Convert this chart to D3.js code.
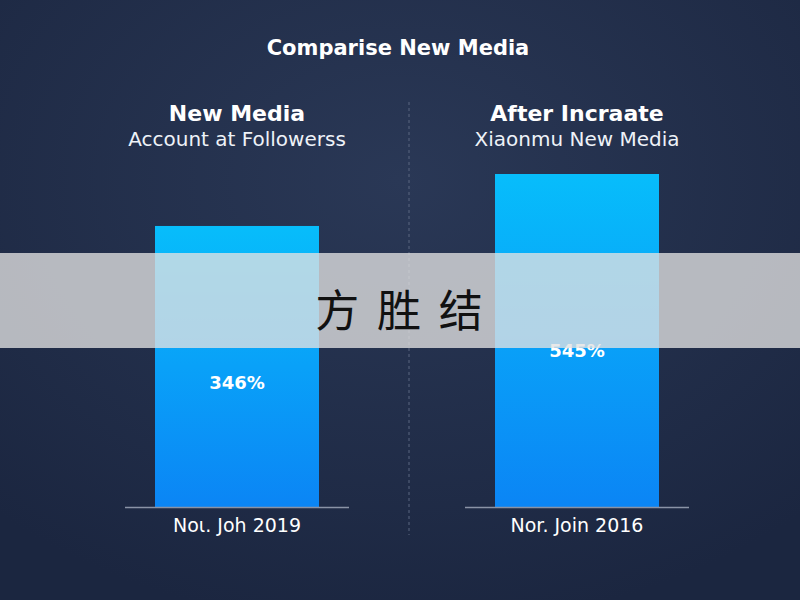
<!DOCTYPE html>
<html><head><meta charset="utf-8">
<script src="https://cdn.jsdelivr.net/npm/d3@7"></script>
<style>body{margin:0;background:#1f2b45}</style>
</head><body><svg id="c" width="800" height="600"></svg>
<script>
const panelTitles = ["New Media", "After Incraate"];
const panelSubtitles = ["Account at Followerss", "Xiaonmu New Media"];
const categories = ["Noι. Joh 2019", "Nor. Join 2016"];
const values = [346, 545];
const valueLabels = ["346%", "545%"];
const bandText = "方 胜 结";

const svg = d3.select("#c");
const defs = svg.append("defs");
const bg = defs.append("radialGradient").attr("id", "bg").attr("cx", "50%").attr("cy", "30%").attr("r", "75%");
bg.append("stop").attr("offset", "0%").attr("stop-color", "#2a3856");
bg.append("stop").attr("offset", "100%").attr("stop-color", "#1b2640");
const bar = defs.append("linearGradient").attr("id", "bar").attr("x1", 0).attr("y1", 0).attr("x2", 0).attr("y2", 1);
bar.append("stop").attr("offset", "0%").attr("stop-color", "#07bdfb");
bar.append("stop").attr("offset", "100%").attr("stop-color", "#0b85f5");

svg.append("rect").attr("width", 800).attr("height", 600).attr("fill", "url(#bg)");

const font = "'DejaVu Sans', Verdana, sans-serif";
svg.append("text").attr("x", 398).attr("y", 55).attr("text-anchor", "middle")
  .attr("fill", "#fff").attr("font-family", font).attr("font-weight", 700).attr("font-size", 21)
  .text("Comparise New Media");

// panel centers
const x = d3.scalePoint().domain(categories).range([237, 577]);
const y = d3.scaleLinear().domain([-730, 545]).range([507, 174]);
const bw = 164;

svg.append("line").attr("x1", 409).attr("x2", 409).attr("y1", 102).attr("y2", 535)
  .attr("stroke", "#5a6780").attr("stroke-dasharray", "3,3").attr("stroke-width", 1);

const g = svg.selectAll("g.p").data(categories).enter().append("g").attr("class", "p");
g.append("text").attr("x", d => x(d)).attr("y", 121).attr("text-anchor", "middle")
  .attr("fill", "#fff").attr("font-family", font).attr("font-weight", 700).attr("font-size", 22)
  .text((d, i) => panelTitles[i]);
g.append("text").attr("x", d => x(d)).attr("y", 146).attr("text-anchor", "middle")
  .attr("fill", "#eef2f8").attr("font-family", font).attr("font-size", 20)
  .text((d, i) => panelSubtitles[i]);
g.append("rect").attr("x", d => x(d) - bw / 2).attr("width", bw)
  .attr("y", (d, i) => y(values[i])).attr("height", (d, i) => y(-730) - y(values[i]))
  .attr("fill", "url(#bar)");
g.append("line").attr("x1", d => x(d) - 112).attr("x2", d => x(d) + 112)
  .attr("y1", 507.5).attr("y2", 507.5).attr("stroke", "#8a93a6").attr("stroke-width", 1.5);
g.append("text").attr("x", d => x(d)).attr("y", 532).attr("text-anchor", "middle")
  .attr("fill", "#fff").attr("font-family", font).attr("font-size", 19).text(d => d);
g.append("text").attr("x", d => x(d)).attr("y", (d, i) => i === 0 ? 389 : 357)
  .attr("text-anchor", "middle").attr("fill", "#fff").attr("font-family", font)
  .attr("font-weight", 700).attr("font-size", 18).text((d, i) => valueLabels[i]);

svg.append("rect").attr("x", 0).attr("y", 253).attr("width", 800).attr("height", 95)
  .attr("fill", "rgb(225,225,225)").attr("opacity", 0.78);
svg.append("text").attr("x", 401).attr("y", 327).attr("text-anchor", "middle")
  .attr("fill", "#111").attr("font-family", "'Noto Sans CJK SC', sans-serif").attr("font-size", 44)
  .attr("letter-spacing", 4).text(bandText);
</script></body></html>
